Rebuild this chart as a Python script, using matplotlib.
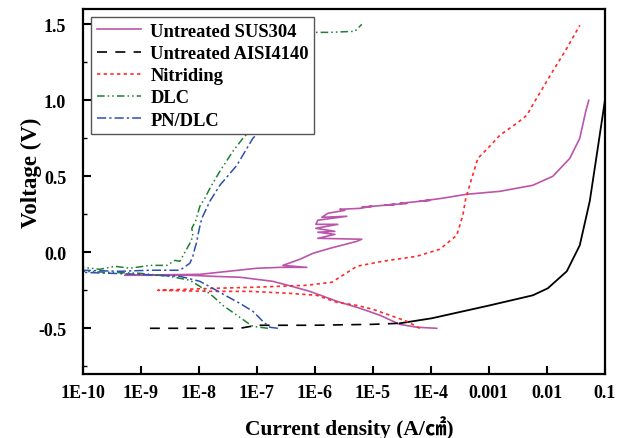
import numpy as np
import matplotlib
matplotlib.use("Agg")
import matplotlib.pyplot as plt
from matplotlib.ticker import FixedLocator, FixedFormatter, LogLocator, NullFormatter, MultipleLocator

plt.rcParams['font.family'] = ['Liberation Serif', 'DejaVu Serif']
plt.rcParams['font.weight'] = 'bold'

# log10 of current density (A/cm2) and voltage (V)

# Untreated AISI4140: cathodic part (dashed) and anodic part (solid)
aisi_cat_logi = [-8.845, -7.293, -7.000, -6.034, -5.017, -4.534]
aisi_cat_v = [-0.500, -0.500, -0.480, -0.480, -0.474, -0.467]
aisi_an_logi = [-4.534, -3.983, -2.983, -2.241, -1.983, -1.655, -1.431, -1.259, -1.121, -1.000]
aisi_an_v = [-0.467, -0.434, -0.349, -0.283, -0.237, -0.125, 0.046, 0.336, 0.684, 0.993]

# Untreated SUS304
sus_logi = [-3.897, -4.241, -4.534, -4.879, -5.224, -5.621, -6.086, -6.397, -6.724, -7.293,
            -7.759, -8.155, -8.672, -9.276,
            -7.983, -7.000, -6.603, -6.138, -6.552, -6.259, -6.034, -5.741, -5.276, -5.190,
            -5.948, -5.655, -5.948, -5.655, -5.983, -5.603, -5.983, -5.948, -5.448, -5.879,
            -5.776, -5.483, -5.569, -5.224, -5.017, -5.190, -4.621, -4.793, -4.414, -4.534,
            -4.017, -4.190, -3.810, -3.379, -2.810, -2.241, -1.897, -1.603, -1.431, -1.328, -1.276]
sus_v = [-0.500, -0.493, -0.474, -0.414, -0.368, -0.322, -0.257, -0.224, -0.191, -0.164,
         -0.158, -0.151, -0.151, -0.151,
         -0.145, -0.105, -0.099, -0.099, -0.086, -0.046, -0.007, 0.026, 0.072, 0.086,
         0.092, 0.118, 0.132, 0.138, 0.158, 0.184, 0.184, 0.211, 0.237, 0.230,
         0.257, 0.276, 0.283, 0.289, 0.303, 0.296, 0.316, 0.309, 0.322, 0.322,
         0.342, 0.336, 0.355, 0.382, 0.401, 0.441, 0.500, 0.618, 0.750, 0.928, 1.000]

# Nitriding
nit_logi = [-4.190, -4.414, -4.707, -5.000, -5.276, -5.621, -5.966, -6.431, -7.121, -7.759, -8.707,
            -7.759, -7.069, -6.138, -5.707, -5.517, -5.276, -4.828, -4.241, -3.845, -3.552, -3.448,
            -3.397, -3.293, -3.190, -3.017, -2.810, -2.517, -2.345, -2.207, -1.897, -1.655, -1.431]
nit_v = [-0.500, -0.454, -0.414, -0.375, -0.349, -0.329, -0.283, -0.270, -0.257, -0.257, -0.250,
         -0.237, -0.230, -0.217, -0.197, -0.151, -0.092, -0.059, -0.026, 0.020, 0.112, 0.243,
         0.355, 0.487, 0.618, 0.684, 0.770, 0.849, 0.901, 0.993, 1.191, 1.342, 1.493]

# DLC
dlc_logi = [-6.810, -7.069, -7.172, -7.345, -7.586, -7.759, -7.983, -8.155, -8.500, -9.017, -9.534, -10.0,
            -10.0, -9.707, -9.448, -9.190, -8.845, -8.552, -8.414, -8.328, -8.241, -8.155, -8.103,
            -8.121, -8.052, -8.017, -7.983, -7.897, -7.810, -7.638, -7.414, -7.241, -7.121, -6.948,
            -6.776, -6.603, -6.552, -6.259, -5.741, -5.310, -5.190]
dlc_v = [-0.500, -0.487, -0.461, -0.414, -0.349, -0.289, -0.224, -0.184, -0.158, -0.138, -0.132, -0.125,
         -0.099, -0.112, -0.092, -0.105, -0.086, -0.086, -0.053, -0.059, 0.000, 0.059, 0.105,
         0.158, 0.211, 0.257, 0.303, 0.355, 0.421, 0.533, 0.664, 0.750, 0.796, 0.947,
         1.112, 1.342, 1.441, 1.447, 1.447, 1.454, 1.500]

# PN/DLC
pn_logi = [-6.638, -6.776, -6.897, -7.069, -7.293, -7.517, -7.759, -7.983, -8.328, -9.017, -9.534, -10.0,
           -10.0, -9.362, -8.845, -8.328, -8.155, -8.103, -8.069, -8.034, -8.017, -7.983, -7.948,
           -7.810, -7.638, -7.345, -7.069, -6.948, -6.655, -6.483, -6.379, -6.328]
pn_v = [-0.500, -0.493, -0.454, -0.388, -0.336, -0.289, -0.237, -0.191, -0.158, -0.145, -0.138, -0.132,
        -0.118, -0.125, -0.118, -0.118, -0.072, -0.026, 0.026, 0.072, 0.112, 0.171, 0.224,
        0.336, 0.441, 0.572, 0.750, 0.796, 1.112, 1.342, 1.454, 1.487]

x_ticks = [1e-10, 1e-9, 1e-8, 1e-7, 1e-6, 1e-5, 1e-4, 1e-3, 1e-2, 1e-1]
x_tick_labels = ["1E-10", "1E-9", "1E-8", "1E-7", "1E-6", "1E-5", "1E-4", "0.001", "0.01", "0.1"]

c_sus = '#BB55AA'
c_aisi = 'black'
c_nit = '#FF2A2A'
c_dlc = '#1F7F35'
c_pn = '#2D50B0'

fig = plt.figure(figsize=(6.28, 4.39), dpi=100)
ax = fig.add_axes([0.132, 0.146, 0.831, 0.831])

ax.plot(10.0 ** np.array(sus_logi), sus_v, color=c_sus, lw=1.2, label="Untreated SUS304")
ax.plot(10.0 ** np.array(aisi_cat_logi), aisi_cat_v, color=c_aisi, lw=1.2,
        linestyle=(0, (6, 5)), label="Untreated AISI4140")
ax.plot(10.0 ** np.array(aisi_an_logi), aisi_an_v, color=c_aisi, lw=1.3)
ax.plot(10.0 ** np.array(nit_logi), nit_v, color=c_nit, lw=1.2,
        linestyle=(0, (2, 2)), label="Nitriding")
ax.plot(10.0 ** np.array(dlc_logi), dlc_v, color=c_dlc, lw=1.1,
        linestyle=(0, (5, 2, 1, 2, 1, 2)), label="DLC")
ax.plot(10.0 ** np.array(pn_logi), pn_v, color=c_pn, lw=1.1,
        linestyle=(0, (6, 2, 1.5, 2)), label="PN/DLC")

ax.set_xscale('log')
ax.set_xlim(1e-10, 1e-1)
ax.set_ylim(-0.8, 1.6)

ax.xaxis.set_major_locator(FixedLocator(x_ticks))
ax.xaxis.set_major_formatter(FixedFormatter(x_tick_labels))
ax.xaxis.set_minor_locator(LogLocator(base=10, subs=np.arange(2, 10)))
ax.xaxis.set_minor_formatter(NullFormatter())
ax.yaxis.set_major_locator(MultipleLocator(0.5))
ax.yaxis.set_minor_locator(MultipleLocator(0.25))
ax.yaxis.set_major_formatter(plt.FuncFormatter(lambda v, p: f"{v:.1f}"))

ax.tick_params(which='both', direction='in', top=False, right=False)
ax.tick_params(which='major', length=6, width=1.5, labelsize=13)
ax.tick_params(which='minor', length=3, width=1.0)
ax.tick_params(axis='x', pad=7)
ax.tick_params(axis='y', pad=12)
for s in ax.spines.values():
    s.set_linewidth(1.6)

ax.set_xlabel("Current density (A/㎠)", fontsize=15.5, fontweight='bold',
              family=['Liberation Serif', 'Noto Sans CJK JP'])
ax.xaxis.set_label_coords(0.51, -0.112)
ax.set_ylabel("Voltage (V)", fontsize=16.5, fontweight='bold')
ax.yaxis.set_label_coords(-0.079, 0.553)

leg = ax.legend(loc='upper left', fontsize=13.3, handlelength=2.4, labelspacing=0.28,
                borderaxespad=0.45, fancybox=False, framealpha=1, edgecolor='#555555',
                borderpad=0.3, handletextpad=0.5)
leg.get_frame().set_linewidth(1.0)

fig.savefig("out.png", dpi=100)
